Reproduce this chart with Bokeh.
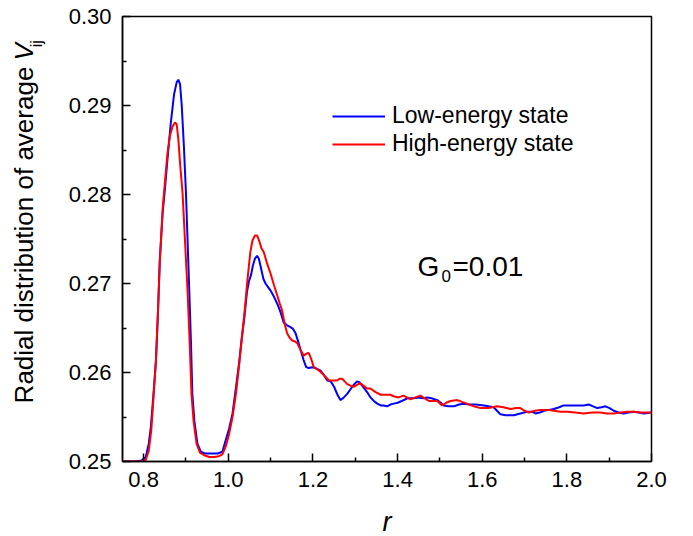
import math
from bokeh.plotting import figure
from bokeh.layouts import row, column
from bokeh.models import Label, Legend, LegendItem, FixedTicker, Range1d
from bokeh.embed import file_html
from bokeh.resources import INLINE

# ---- data ----
r_low = [0.750, 0.780, 0.795, 0.805, 0.812, 0.817, 0.823, 0.829, 0.834, 0.838, 0.845, 0.850, 0.856, 0.864, 0.872,
         0.878, 0.882, 0.886, 0.890, 0.895, 0.900, 0.904, 0.908, 0.912, 0.915, 0.920, 0.927, 0.935, 0.945, 0.960,
         0.975, 0.986, 0.994, 1.002, 1.010, 1.018, 1.026, 1.032, 1.038, 1.044, 1.049, 1.054, 1.058, 1.063, 1.068,
         1.072, 1.077, 1.083, 1.088, 1.094, 1.100, 1.108, 1.116, 1.124, 1.131, 1.139, 1.147, 1.153, 1.159, 1.165,
         1.171, 1.178, 1.184, 1.190, 1.198, 1.206, 1.218, 1.226, 1.234, 1.242, 1.250, 1.258, 1.265, 1.273, 1.281,
         1.290, 1.296, 1.304, 1.310, 1.320, 1.328, 1.336, 1.344, 1.352, 1.360, 1.367, 1.375, 1.383, 1.391, 1.400,
         1.410, 1.423, 1.430, 1.438, 1.450, 1.460, 1.470, 1.480, 1.494, 1.502, 1.509, 1.520, 1.533, 1.545, 1.557,
         1.570, 1.585, 1.604, 1.615, 1.627, 1.635, 1.643, 1.655, 1.667, 1.675, 1.690, 1.706, 1.716, 1.726, 1.736,
         1.746, 1.758, 1.769, 1.782, 1.792, 1.808, 1.824, 1.840, 1.852, 1.862, 1.872, 1.882, 1.891, 1.901, 1.911,
         1.922, 1.934, 1.946, 1.958, 1.970, 1.982, 2.000]
v_low = [0.2500, 0.2500, 0.2501, 0.2505, 0.2520, 0.2539, 0.2575, 0.2613, 0.2670, 0.2726, 0.2780, 0.2805, 0.2838, 0.2880, 0.2913,
         0.2926, 0.2929, 0.2924, 0.2900, 0.2855, 0.2801, 0.2745, 0.2689, 0.2630, 0.2576, 0.2545, 0.2520, 0.2511, 0.2509, 0.2509,
         0.2509, 0.2511, 0.2524, 0.2537, 0.2554, 0.2583, 0.2613, 0.2640, 0.2662, 0.2690, 0.2703, 0.2710, 0.2720, 0.2728, 0.2731,
         0.2728, 0.2718, 0.2705, 0.2700, 0.2696, 0.2692, 0.2685, 0.2677, 0.2667, 0.2656, 0.2653, 0.2651, 0.2649, 0.2644, 0.2635,
         0.2625, 0.2614, 0.2606, 0.2605, 0.2606, 0.2605, 0.2602, 0.2597, 0.2591, 0.2590, 0.2584, 0.2575, 0.2569, 0.2572, 0.2576,
         0.2582, 0.2586, 0.2590, 0.2589, 0.2583, 0.2578, 0.2572, 0.2568, 0.2565, 0.2563, 0.2563, 0.2562, 0.2564, 0.2565, 0.2566,
         0.2568, 0.2571, 0.2571, 0.2571, 0.2572, 0.2571, 0.2572, 0.2571, 0.2569, 0.2566, 0.2563, 0.2562, 0.2562, 0.2564, 0.2565,
         0.2564, 0.2564, 0.2563, 0.2562, 0.2561, 0.2557, 0.2553, 0.2552, 0.2552, 0.2552, 0.2554, 0.2556, 0.2556, 0.2554, 0.2555,
         0.2557, 0.2558, 0.2559, 0.2561, 0.2563, 0.2563, 0.2563, 0.2563, 0.2564, 0.2562, 0.2560, 0.2561, 0.2562, 0.2560, 0.2557,
         0.2555, 0.2554, 0.2555, 0.2556, 0.2555, 0.2554, 0.2555]

r_high = [0.750, 0.780, 0.795, 0.805, 0.812, 0.818, 0.823, 0.829, 0.834, 0.838, 0.845, 0.851, 0.856, 0.862, 0.868,
          0.874, 0.878, 0.882, 0.886, 0.892, 0.898, 0.904, 0.909, 0.913, 0.918, 0.925, 0.933, 0.943, 0.955, 0.967,
          0.978, 0.986, 0.994, 1.002, 1.010, 1.018, 1.026, 1.034, 1.040, 1.045, 1.052, 1.057, 1.063, 1.068, 1.073,
          1.078, 1.084, 1.092, 1.100, 1.108, 1.116, 1.122, 1.127, 1.133, 1.139, 1.145, 1.151, 1.157, 1.163, 1.170,
          1.178, 1.184, 1.190, 1.196, 1.202, 1.212, 1.222, 1.230, 1.238, 1.248, 1.257, 1.263, 1.269, 1.275, 1.281,
          1.290, 1.296, 1.304, 1.312, 1.320, 1.328, 1.336, 1.348, 1.360, 1.372, 1.383, 1.392, 1.402, 1.414, 1.422,
          1.430, 1.442, 1.454, 1.464, 1.474, 1.494, 1.505, 1.515, 1.525, 1.541, 1.552, 1.564, 1.580, 1.596, 1.615,
          1.635, 1.650, 1.667, 1.680, 1.690, 1.700, 1.710, 1.725, 1.738, 1.755, 1.769, 1.785, 1.801, 1.820, 1.840,
          1.860, 1.879, 1.895, 1.911, 1.927, 1.943, 1.958, 1.974, 2.000]
v_high = [0.2500, 0.2500, 0.2500, 0.2502, 0.2512, 0.2535, 0.2570, 0.2613, 0.2670, 0.2722, 0.2785, 0.2818, 0.2845, 0.2866, 0.2876,
          0.2881, 0.2879, 0.2862, 0.2835, 0.2801, 0.2745, 0.2689, 0.2630, 0.2576, 0.2545, 0.2520, 0.2510, 0.2507, 0.2505, 0.2505,
          0.2506, 0.2508, 0.2517, 0.2531, 0.2550, 0.2576, 0.2610, 0.2647, 0.2676, 0.2703, 0.2735, 0.2748, 0.2754, 0.2754, 0.2748,
          0.2740, 0.2735, 0.2722, 0.2711, 0.2698, 0.2686, 0.2677, 0.2670, 0.2655, 0.2644, 0.2639, 0.2636, 0.2635, 0.2633, 0.2626,
          0.2619, 0.2621, 0.2622, 0.2615, 0.2606, 0.2603, 0.2599, 0.2595, 0.2591, 0.2591, 0.2591, 0.2593, 0.2593, 0.2590, 0.2587,
          0.2585, 0.2584, 0.2586, 0.2588, 0.2585, 0.2582, 0.2582, 0.2578, 0.2575, 0.2575, 0.2575, 0.2573, 0.2572, 0.2574, 0.2572,
          0.2570, 0.2572, 0.2574, 0.2571, 0.2568, 0.2568, 0.2563, 0.2566, 0.2568, 0.2569, 0.2567, 0.2565, 0.2562, 0.2560, 0.2560,
          0.2562, 0.2561, 0.2559, 0.2560, 0.2560, 0.2557, 0.2555, 0.2557, 0.2558, 0.2558, 0.2557, 0.2556, 0.2556, 0.2555, 0.2554,
          0.2555, 0.2555, 0.2554, 0.2554, 0.2555, 0.2556, 0.2556, 0.2555, 0.2555]

x_ticks = [0.8, 1.0, 1.2, 1.4, 1.6, 1.8, 2.0]
x_tick_labels = ["0.8", "1.0", "1.2", "1.4", "1.6", "1.8", "2.0"]
x_minor = [0.9, 1.1, 1.3, 1.5, 1.7, 1.9]
y_ticks = [0.25, 0.26, 0.27, 0.28, 0.29, 0.30]
y_tick_labels = ["0.25", "0.26", "0.27", "0.28", "0.29", "0.30"]
y_minor = [0.255, 0.265, 0.275, 0.285, 0.295]
series_names = ["Low-energy state", "High-energy state"]

# ---- layout ----
X0, X1, Y0, Y1 = 0.75, 2.0, 0.25, 0.30
TOTAL_W, TOTAL_H = 693, 536
LW = 56                                   # strip holding the rotated y title
BH = 30                                   # strip holding the x title
TOP_H = TOTAL_H - BH
FL, FR, FT, FB = 122, 651, 16, 461        # frame in page px
FONT = "Liberation Sans"
INK = "black"
SHIFT = 0.37                              # observed baseline offset of labels, in em


def px2x(px):
    return X0 + (px - FL) / (FR - FL) * (X1 - X0)


def py2y(py):
    return Y0 + (FB - py) / (FB - FT) * (Y1 - Y0)


MW = TOTAL_W - LW
p = figure(width=MW, height=TOP_H, output_backend="svg", toolbar_location=None,
           x_range=Range1d(X0, X1), y_range=Range1d(Y0, Y1),
           min_border_left=FL - LW, min_border_right=TOTAL_W - FR, min_border_top=FT,
           min_border_bottom=TOP_H - FB)
p.xgrid.visible = False
p.ygrid.visible = False
p.outline_line_color = INK
p.outline_line_width = 1.5
p.background_fill_color = "white"
p.border_fill_color = "white"

for ax, ticks, labels, minor in [(p.xaxis[0], x_ticks, x_tick_labels, x_minor),
                                  (p.yaxis[0], y_ticks, y_tick_labels, y_minor)]:
    ax.ticker = FixedTicker(ticks=ticks, minor_ticks=minor)
    ax.major_label_overrides = {t: l for t, l in zip(ticks, labels)}
    ax.major_tick_in = 8
    ax.major_tick_out = 0
    ax.minor_tick_in = 4
    ax.minor_tick_out = 0
    ax.axis_line_width = 1.5
    ax.axis_line_color = INK
    ax.major_tick_line_width = 1.5
    ax.minor_tick_line_width = 1.5
    ax.major_tick_line_color = INK
    ax.minor_tick_line_color = INK
    ax.major_label_text_font = FONT
    ax.major_label_text_font_size = "22px"
    ax.major_label_text_color = INK
p.xaxis[0].major_label_standoff = 10
p.yaxis[0].major_label_standoff = 11

l1 = p.line(r_low, v_low, line_color="#0000ff", line_width=2)
l2 = p.line(r_high, v_high, line_color="#ff0000", line_width=2)

legend = Legend(items=[LegendItem(label=series_names[0], renderers=[l1]),
                       LegendItem(label=series_names[1], renderers=[l2])],
                location=(332 - FL, 304), border_line_alpha=0,
                background_fill_alpha=0,
                glyph_width=53, glyph_height=22, label_height=22, label_standoff=7,
                spacing=1, padding=0, margin=0,
                label_text_font=FONT, label_text_font_size="23px", label_text_color=INK)
p.add_layout(legend)


def base(px_baseline, size, sign=1):
    """anchor for a label whose glyph baseline should sit at px_baseline"""
    return px_baseline - sign * SHIFT * size


# G0 = 0.01 annotation (page-pixel baselines)
p.add_layout(Label(x=px2x(417), y=py2y(base(276, 28)), text="G", text_font=FONT, text_font_size="28px",
                   text_color=INK, text_baseline="alphabetic", text_align="left"))
p.add_layout(Label(x=px2x(441), y=py2y(base(282, 17)), text="0", text_font=FONT, text_font_size="17px",
                   text_color=INK, text_baseline="alphabetic", text_align="left"))
p.add_layout(Label(x=px2x(452), y=py2y(base(276, 28)), text="=0.01", text_font=FONT, text_font_size="28px",
                   text_color=INK, text_baseline="alphabetic", text_align="left"))


def strip(w, h, y_top):
    f = figure(width=w, height=h, output_backend="svg", toolbar_location=None,
               x_range=Range1d(0, w), y_range=Range1d(y_top + h, y_top),
               x_axis_location=None, y_axis_location=None,
               min_border_left=0, min_border_right=0, min_border_top=0, min_border_bottom=0)
    f.xgrid.visible = False
    f.ygrid.visible = False
    f.outline_line_color = None
    f.background_fill_color = "white"
    f.border_fill_color = "white"
    return f


# ---- strip on the left: rotated y-axis title ----
q = strip(LW, TOP_H, 0)
rot = math.pi / 2
q.add_layout(Label(x=base(33, 26), y=57, text="Radial distribution of average", angle=rot, text_color=INK,
                   text_font=FONT, text_font_size="26px", text_baseline="alphabetic", text_align="right"))
q.add_layout(Label(x=base(33, 26), y=50, text="V", angle=rot, text_font=FONT, text_font_size="26px",
                   text_color=INK, text_font_style="italic", text_baseline="alphabetic", text_align="left"))
q.add_layout(Label(x=base(42, 16), y=35, text="ij", angle=rot, text_font=FONT, text_font_size="16px",
                   text_color=INK, text_baseline="alphabetic", text_align="left"))

# ---- strip at the bottom: x-axis title ----
s = strip(TOTAL_W, BH, TOP_H)
s.add_layout(Label(x=(FL + FR) / 2, y=base(531, 27), text="r", text_font=FONT, text_font_size="27px",
                   text_color=INK, text_font_style="italic", text_baseline="alphabetic", text_align="center"))

layout = column(row(q, p, spacing=0), s, spacing=0)
open("out.html", "w").write(file_html(layout, INLINE))
